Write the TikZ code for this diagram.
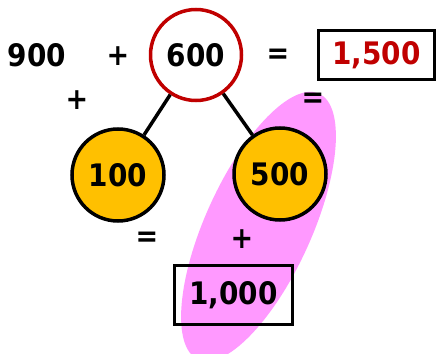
\documentclass[tikz,border=0pt]{standalone}
\usepackage{fontspec}
\setmainfont{DejaVu Sans Condensed}
\usepackage{tikz}
\usetikzlibrary{positioning}

\definecolor{ringred}{RGB}{192,0,0}
\definecolor{ballyellow}{RGB}{255,192,0}
\definecolor{blobpink}{RGB}{255,153,255}

\begin{document}
\begin{tikzpicture}[x=1pt,y=-1pt,line width=3.5pt,
  num/.style={font=\fontsize{31}{36}\selectfont\bfseries},
  sign/.style={font=\fontsize{30}{34}\selectfont\bfseries},
  ball/.style={circle,draw,fill=ballyellow,minimum size=92pt,inner sep=0pt,num},
  answer/.style={draw,inner sep=0pt,num}]
  \useasboundingbox (0,0) rectangle (438,353);
  % highlighted pair
  \fill[blobpink,rotate around={65.5:(258.5,226.5)}]
    (258.5,226.5) ellipse [x radius=146pt, y radius=53pt];
  % top row
  \node[num] (nine) at (37,55) {900};
  \node[sign] (plusA) at (118,56) {+};
  \node[circle,draw=ringred,fill=white,minimum size=91pt,inner sep=0pt,num]
    (six) at (196,55) {600};
  \node[sign] (eqA) at (278,56) {=};
  \node[answer,minimum width=116pt,minimum height=49pt,text=ringred]
    (total) at (376.5,55) {1,500};
  % split of 600
  \node[ball] (one) at (118,175) {100};
  \node[ball] (five) at (280,174) {500};
  \draw (six) -- (one);
  \draw (six) -- (five);
  \node[sign] (plusB) at (77,100) {+};
  \node[sign] (eqB) at (313,100) {=};
  % bottom row
  \node[sign] (eqC) at (147,239) {=};
  \node[sign] (plusC) at (242,239) {+};
  \node[answer,minimum width=118pt,minimum height=59pt]
    (thousand) at (233.5,295) {1,000};
\end{tikzpicture}
\end{document}
